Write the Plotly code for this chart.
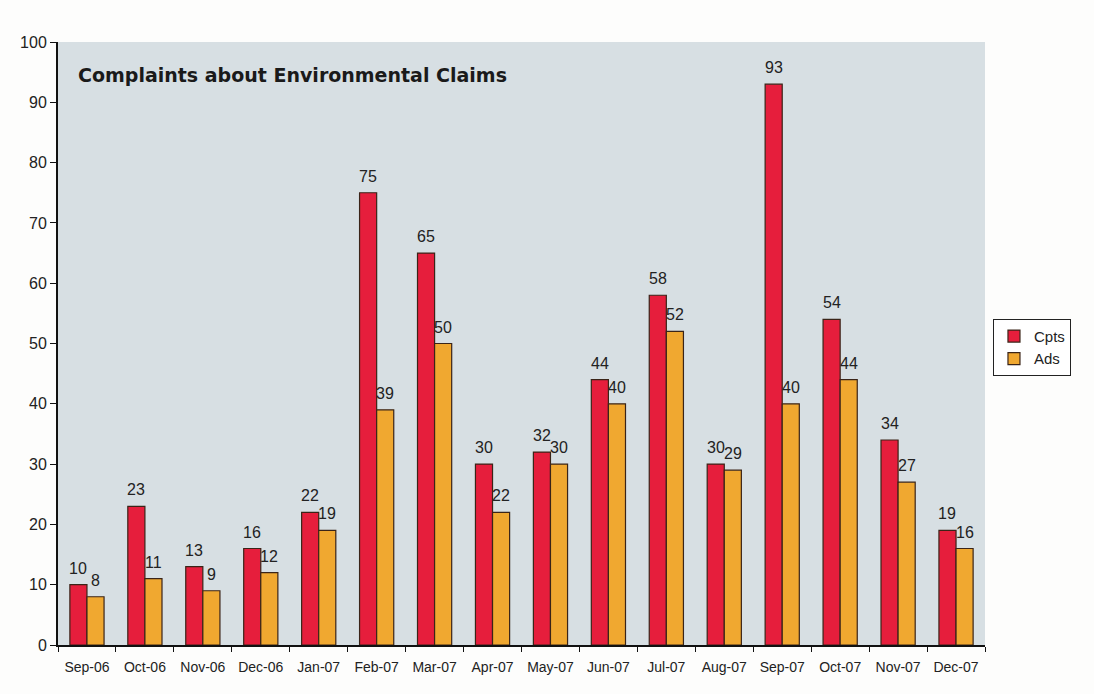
import plotly.graph_objects as go

months = ["Sep-06", "Oct-06", "Nov-06", "Dec-06", "Jan-07", "Feb-07", "Mar-07", "Apr-07",
          "May-07", "Jun-07", "Jul-07", "Aug-07", "Sep-07", "Oct-07", "Nov-07", "Dec-07"]
cpts = [10, 23, 13, 16, 22, 75, 65, 30, 32, 44, 58, 30, 93, 54, 34, 19]
ads = [8, 11, 9, 12, 19, 39, 50, 22, 30, 40, 52, 29, 40, 44, 27, 16]
y_ticks = [0, 10, 20, 30, 40, 50, 60, 70, 80, 90, 100]

BARGAP = 0.41
label_font = dict(size=16, color="#222222", family="Liberation Sans, Arial")

fig = go.Figure()
fig.add_trace(go.Bar(
    x=months, y=cpts, name="Cpts",
    marker=dict(color="#E61E3C", line=dict(color="#3A2418", width=1.2)),
))
fig.add_trace(go.Bar(
    x=months, y=ads, name="Ads",
    marker=dict(color="#F0A830", line=dict(color="#3A2418", width=1.2)),
))

# value labels above each bar (positioned via the data coordinates)
plot_w = 1094 - 58 - 109
cat_w = plot_w / len(months)
half_bar = cat_w * (1 - BARGAP) / 4
annotations = []
for series, sign in ((cpts, -1), (ads, 1)):
    for m, v in zip(months, series):
        annotations.append(dict(
            x=m, y=v, xref="x", yref="y", text=str(v), showarrow=False,
            xanchor="center", yanchor="bottom", xshift=sign * half_bar, yshift=6,
            font=label_font,
        ))
annotations.append(dict(
    text="<b>Complaints about Environmental Claims</b>",
    xref="paper", yref="paper", x=0.019, y=0.945,
    xanchor="left", yanchor="middle", showarrow=False,
    font=dict(size=19, color="#1A1A1A", family="DejaVu Sans"),
))

fig.update_layout(
    width=1094, height=694,
    margin=dict(l=58, r=109, t=42, b=49),
    paper_bgcolor="#FDFDFC",
    plot_bgcolor="#D7DFE3",
    barmode="group",
    bargap=BARGAP,
    bargroupgap=0,
    font=dict(family="Liberation Sans, Arial", color="#222222"),
    showlegend=True,
    legend=dict(
        x=1.0086, y=0.541, xanchor="left", yanchor="top",
        bgcolor="#FFFFFF", bordercolor="#222222", borderwidth=1,
        font=dict(size=15, color="#222222"),
        itemwidth=30, tracegroupgap=2,
    ),
    annotations=annotations,
)
fig.update_xaxes(
    showline=True, linecolor="#111111", linewidth=1.5,
    ticks="outside", tickson="boundaries", ticklen=5, tickcolor="#111111",
    tickfont=dict(size=14, color="#222222"),
    ticklabelstandoff=8,
    showgrid=False,
)
fig.update_yaxes(
    range=[0, 100], tickvals=y_ticks,
    showline=True, linecolor="#111111", linewidth=2,
    ticks="outside", ticklen=6, tickcolor="#111111",
    tickfont=dict(size=16, color="#222222"),
    showgrid=False, zeroline=False,
)

fig.write_html("out.html")
